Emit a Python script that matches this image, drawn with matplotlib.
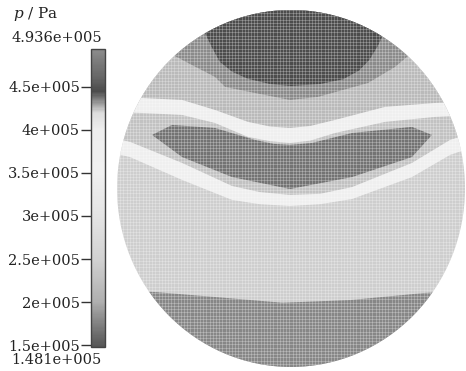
import numpy as np
import matplotlib
matplotlib.use("Agg")
import matplotlib.pyplot as plt
from matplotlib.colors import LinearSegmentedColormap, Normalize
from matplotlib.patches import Circle
from matplotlib.cm import ScalarMappable

# pressure range of the colour bar (Pa)
p_min = 1.481e5
p_max = 4.936e5
tick_values = [1.5e5, 2e5, 2.5e5, 3e5, 3.5e5, 4e5, 4.5e5]
tick_labels = ["1.5e+005", "2e+005", "2.5e+005", "3e+005", "3.5e+005", "4e+005", "4.5e+005"]

# grey level of the printed colour scale
scale_p = [1.481e5, 1.75e5, 2.0e5, 2.5e5, 3.0e5, 3.5e5, 4.0e5, 4.2e5, 4.32e5, 4.45e5, 4.6e5, 4.936e5]
scale_grey = [85, 130, 175, 210, 228, 240, 238, 220, 150, 75, 100, 140]

# contour bands on the unit disk (x, y outlines) and their pressure
bottom_p = 1.78e5
bottom_x = [-1.1, -0.78, -0.41, -0.05, 0.34, 0.77, 1.1]
bottom_y = [-0.57, -0.58, -0.61, -0.64, -0.625, -0.585, -0.57]

base_p = 2.45e5

white_p = 3.7e5
low_white_x = [-1.1, -0.925, -0.626, -0.339, -0.18, -0.006, 0.167, 0.351, 0.695, 0.914, 1.1]
low_white_bot = [0.216, 0.176, 0.048, -0.064, -0.088, -0.098, -0.088, -0.059, 0.064, 0.188, 0.25]
low_white_top = [0.30, 0.261, 0.143, 0.014, -0.02, -0.036, -0.03, 0.008, 0.143, 0.272, 0.33]

light_p = 4.24e5

lens_p = 4.37e5
lens_x = [-0.799, -0.684, -0.437, -0.207, -0.10, -0.006, 0.12, 0.351, 0.695, 0.810,
          0.695, 0.351, -0.006, -0.339, -0.626]
lens_y = [0.300, 0.356, 0.339, 0.272, 0.250, 0.244, 0.255, 0.311, 0.345, 0.300,
          0.176, 0.064, -0.003, 0.064, 0.176]

up_white_x = [-1.1, -0.856, -0.626, -0.437, -0.247, -0.12, -0.006, 0.11, 0.253, 0.540, 0.828, 1.1]
up_white_bot = [0.429, 0.423, 0.412, 0.367, 0.289, 0.265, 0.255, 0.268, 0.311, 0.373, 0.401, 0.417]
up_white_top = [0.524, 0.507, 0.496, 0.440, 0.373, 0.347, 0.339, 0.350, 0.384, 0.457, 0.479, 0.490]

upper_p = 4.25e5

ring_p = 4.34e5
ring_x = [-0.695, -0.667, -0.592, -0.437, -0.379, -0.207, -0.006, 0.155, 0.443, 0.598, 0.672, 0.713]
ring_y = [1.112, 0.742, 0.703, 0.625, 0.569, 0.535, 0.496, 0.513, 0.591, 0.681, 0.742, 1.112]

cap_p = 4.45e5
cap_x = [-0.523, -0.494, -0.46, -0.41, -0.34, -0.25, -0.12, 0.0, 0.167, 0.30, 0.39, 0.45, 0.50, 0.523, 0.569]
cap_y = [1.112, 0.871, 0.80, 0.71, 0.655, 0.615, 0.585, 0.574, 0.585, 0.612, 0.66, 0.72, 0.80, 0.849, 1.112]

stops = [((p - p_min) / (p_max - p_min), (g / 255, g / 255, g / 255)) for p, g in zip(scale_p, scale_grey)]
cmap = LinearSegmentedColormap.from_list("print_grey", stops)
norm = Normalize(p_min, p_max)

plt.rcParams["font.family"] = "DejaVu Serif"
plt.rcParams["mathtext.fontset"] = "dejavuserif"

fig = plt.figure(figsize=(4.66, 3.71), dpi=100)

ax = fig.add_axes([0.2511, 0.0108, 0.7468, 0.9623])
ax.set_xlim(-1, 1)
ax.set_ylim(-1, 1)
for s in ax.spines.values():
    s.set_visible(False)
ax.tick_params(length=0, labelbottom=False, labelleft=False)

disk = Circle((0, 0), 1, transform=ax.transData, facecolor=cmap(norm(base_p)), edgecolor="none")
ax.add_patch(disk)


def band(xs, ys, p, above=True):
    # polygon closed along the top (or bottom) of the frame, clipped to the disk
    edge = 1.2 if above else -1.2
    px = list(xs) + [xs[-1], xs[0]]
    py = list(ys) + [edge, edge]
    patch = ax.fill(px, py, color=cmap(norm(p)), lw=0)[0]
    patch.set_clip_path(disk)


band(bottom_x, bottom_y, bottom_p, above=False)
band(low_white_x, low_white_bot, white_p)
band(low_white_x, low_white_top, light_p)
lens = ax.fill(lens_x, lens_y, color=cmap(norm(lens_p)), lw=0)[0]
lens.set_clip_path(disk)
band(up_white_x, up_white_bot, white_p)
band(up_white_x, up_white_top, upper_p)
band(ring_x, ring_y, ring_p)
band(cap_x, cap_y, cap_p)

# fine mesh lines showing through the print
ax.set_xticks(np.linspace(-1, 1, 110))
ax.set_yticks(np.linspace(-1, 1, 112))
ax.grid(True, color="white", lw=0.5, alpha=0.35)
ax.set_axisbelow(False)
for gl in ax.get_xgridlines() + ax.get_ygridlines():
    gl.set_clip_path(disk)

# colour bar on the left
cax = fig.add_axes([0.1953, 0.0647, 0.030, 0.8032])
cb = fig.colorbar(ScalarMappable(norm=norm, cmap=cmap), cax=cax)
cb.outline.set_edgecolor("#444444")
cb.outline.set_linewidth(1.0)
cax.yaxis.set_ticks_position("left")
cax.set_yticks(tick_values)
cax.set_yticklabels(tick_labels, fontsize=10.5)
cax.tick_params(axis="y", length=7, width=1, pad=1, color="#333333", labelcolor="#222222")

fig.text(0.122, 0.898, "4.936e+005", ha="center", va="center", fontsize=10.5, color="#222222")
fig.text(0.122, 0.030, "1.481e+005", ha="center", va="center", fontsize=10.5, color="#222222")
fig.text(0.028, 0.962, "$p$ / Pa", ha="left", va="center", fontsize=11, color="#222222")

fig.savefig("out.png", dpi=100)
